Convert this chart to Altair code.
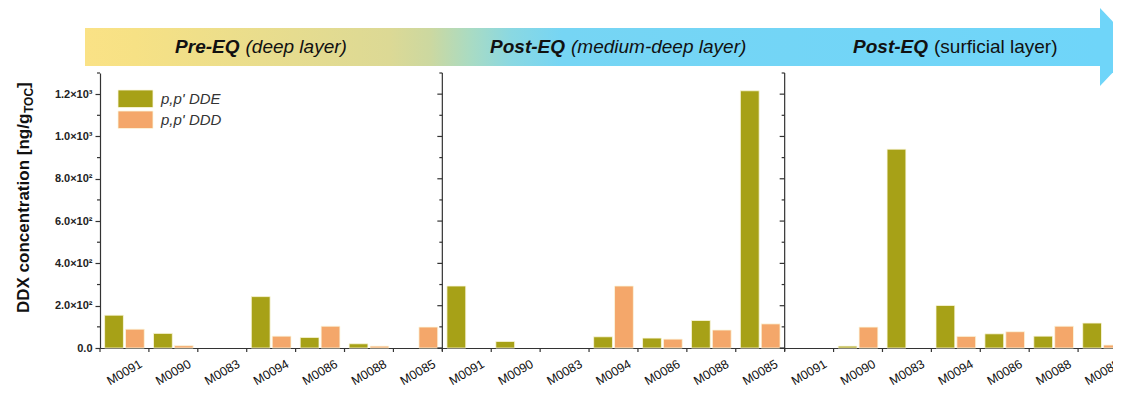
import altair as alt
import pandas as pd

# ---------------- data ----------------
samples = ["M0091", "M0090", "M0083", "M0094", "M0086", "M0088", "M0085"]
panels = ["pre", "mid", "surf"]
series = ["p,p' DDE", "p,p' DDD"]
colors = ["#A7A117", "#F4A76A"]

dde_pre = [155, 69, 0, 243, 50, 20, 0]
ddd_pre = [89, 11, 0, 56, 103, 9, 99]
dde_mid = [293, 31, 0, 53, 47, 130, 1216]
ddd_mid = [0, 0, 0, 293, 42, 85, 114]
dde_surf = [0, 9, 940, 201, 67, 56, 118]
ddd_surf = [0, 99, 0, 55, 77, 103, 14]

y_major = [0, 200, 400, 600, 800, 1000, 1200]
y_minor = [100, 300, 500, 700, 900, 1100, 1300]
y_labels = ["0.0", "2.0×10²", "4.0×10²", "6.0×10²", "8.0×10²", "1.0×10³", "1.2×10³"]

header_bold = ["Pre-EQ", "Post-EQ", "Post-EQ"]
header_rest = ["(deep layer)", "(medium-deep layer)", "(surficial layer)"]
header_rest_style = ["italic", "italic", "normal"]

y_title_main = "DDX concentration [ng/g"
y_title_sub = "TOC"
y_title_end = "]"

# ---------------- table ----------------
rows = []
for p, (dde, ddd) in zip(panels, [(dde_pre, ddd_pre), (dde_mid, ddd_mid), (dde_surf, ddd_surf)]):
    for s, a, b in zip(samples, dde, ddd):
        key = f"{p}|{s}"
        rows.append({"key": key, "series": series[0], "value": a})
        rows.append({"key": key, "series": series[1], "value": b})
df = pd.DataFrame(rows)
keys = [f"{p}|{s}" for p in panels for s in samples]

W = 1027
H = 275
FONT = "Liberation Sans, Arial, sans-serif"
AX = "#333333"
one = pd.DataFrame({"k": [0]})

x_axis = alt.Axis(
    title=None, ticks=False, tickSize=0, labelAngle=330, labelAlign="center",
    labelBaseline="middle", labelPadding=24, labelFontSize=12.5, labelFont=FONT,
    labelColor="#111111", domainColor=AX, domainWidth=1.2, labelOverlap=False,
    labelExpr="split(datum.label, '|')[1]",
)
x_scale = alt.Scale(paddingInner=0, paddingOuter=0)

label_expr_y = "[" + ",".join(f"'{l}'" for l in y_labels) + "][round(datum.value/200)]"
y_axis = alt.Axis(
    values=y_major, labelExpr=label_expr_y, title=None, tickSize=5, labelPadding=3,
    labelFont=FONT, labelFontWeight="bold", labelFontSize=11, labelColor="#222222",
    domainColor=AX, domainWidth=1.2, tickColor=AX, tickWidth=1.2, grid=False,
)
y_scale = alt.Scale(domain=[0, 1300], nice=False, zero=True)


def yv():
    return alt.Y("value:Q", scale=y_scale, axis=y_axis)


bars = alt.Chart(df).transform_filter("datum.value > 0").mark_bar(
    stroke="#FBF8DE", strokeWidth=0.8
).encode(
    x=alt.X("key:N", sort=keys, scale=x_scale, axis=x_axis),
    xOffset=alt.XOffset("series:N", sort=series,
                        scale=alt.Scale(paddingInner=0.1, paddingOuter=0.22)),
    y=yv(),
    color=alt.Color("series:N", scale=alt.Scale(domain=series, range=colors), legend=None),
)

# x tick marks at category boundaries
xticks = alt.Chart(pd.DataFrame({"key": keys})).mark_rule(color=AX, strokeWidth=1.2).encode(
    x=alt.X("key:N", sort=keys, scale=x_scale, axis=x_axis, bandPosition=0),
    y=alt.value(H), y2=alt.value(H + 4),
)

layers = []

# header arrow
grad = alt.Gradient(
    gradient="linear", x1=0, x2=1, y1=0, y2=0,
    stops=[
        alt.GradientStop(color="#FAE286", offset=0),
        alt.GradientStop(color="#F6E185", offset=0.05),
        alt.GradientStop(color="#DCD995", offset=0.30),
        alt.GradientStop(color="#CCD8A0", offset=0.34),
        alt.GradientStop(color="#A9DBC3", offset=0.38),
        alt.GradientStop(color="#8AD8E2", offset=0.42),
        alt.GradientStop(color="#76D5F4", offset=0.47),
        alt.GradientStop(color="#6FD5F9", offset=1),
    ],
)
layers.append(alt.Chart(one).mark_rect(fill=grad).encode(
    x=alt.value(-15), x2=alt.value(1000), y=alt.value(-45), y2=alt.value(-7)))
layers.append(alt.Chart(one).mark_point(
    shape="M0,-1L0.95,0L0,1Z", filled=True, size=6084, fill="#6FD5F9", opacity=1, strokeWidth=0
).encode(x=alt.value(1000), y=alt.value(-26)))

splits = [142.5, 468, 831]
for b, r, st, sx in zip(header_bold, header_rest, header_rest_style, splits):
    layers.append(alt.Chart(one).mark_text(
        text=b, font=FONT, fontSize=19, fontWeight="bold", fontStyle="italic",
        align="right", baseline="middle", color="#111111"
    ).encode(x=alt.value(sx - 3), y=alt.value(-26)))
    layers.append(alt.Chart(one).mark_text(
        text=r, font=FONT, fontSize=19, fontWeight="normal", fontStyle=st,
        align="left", baseline="middle", color="#111111"
    ).encode(x=alt.value(sx + 3), y=alt.value(-26)))

layers.append(bars)
layers.append(xticks)

# y minor ticks on left axis
minor_df = pd.DataFrame({"value": y_minor})
major_df = pd.DataFrame({"value": y_major})
layers.append(alt.Chart(minor_df).mark_rule(color=AX, strokeWidth=1.2).encode(
    y=yv(), x=alt.value(-3), x2=alt.value(0)))

# panel dividers with inward ticks
for d in [W * 7 / 21, W * 14 / 21]:
    layers.append(alt.Chart(one).mark_rule(color=AX, strokeWidth=1.2).encode(
        x=alt.value(d), y=alt.value(0), y2=alt.value(H + 3)))
    layers.append(alt.Chart(major_df).mark_rule(color=AX, strokeWidth=1.2).encode(
        y=yv(), x=alt.value(d - 5), x2=alt.value(d)))
    layers.append(alt.Chart(minor_df).mark_rule(color=AX, strokeWidth=1.2).encode(
        y=yv(), x=alt.value(d - 3), x2=alt.value(d)))

# legend
for i, (s, c) in enumerate(zip(series, colors)):
    layers.append(alt.Chart(one).mark_rect(fill=c, stroke="#FBF8DE", strokeWidth=0.8).encode(
        x=alt.value(18), x2=alt.value(53), y=alt.value(17 + 21 * i), y2=alt.value(34.5 + 21 * i)))
    layers.append(alt.Chart(one).mark_text(
        text=s, font=FONT, fontSize=15, fontStyle="italic", align="left",
        baseline="middle", color="#333333"
    ).encode(x=alt.value(61), y=alt.value(26 + 21 * i)))

# y title with subscript
layers.append(alt.Chart(one).mark_text(
    text=y_title_main, font=FONT, fontSize=17, fontWeight="bold", angle=270,
    align="left", baseline="alphabetic", color="#111111"
).encode(x=alt.value(-71), y=alt.value(240)))
layers.append(alt.Chart(one).mark_text(
    text=y_title_sub, font=FONT, fontSize=12, fontWeight="bold", angle=270,
    align="left", baseline="alphabetic", color="#111111"
).encode(x=alt.value(-67), y=alt.value(40)))
layers.append(alt.Chart(one).mark_text(
    text=y_title_end, font=FONT, fontSize=17, fontWeight="bold", angle=270,
    align="left", baseline="alphabetic", color="#111111"
).encode(x=alt.value(-71), y=alt.value(15)))

chart = alt.layer(*layers).properties(
    width=W, height=H,
    autosize=alt.AutoSizeParams(type="none"),
    padding={"left": 92, "top": 65, "right": -14, "bottom": 42},
    background="white",
).configure_view(stroke=None)

chart.save("out.html", embed_options={"renderer": "svg", "actions": False})
